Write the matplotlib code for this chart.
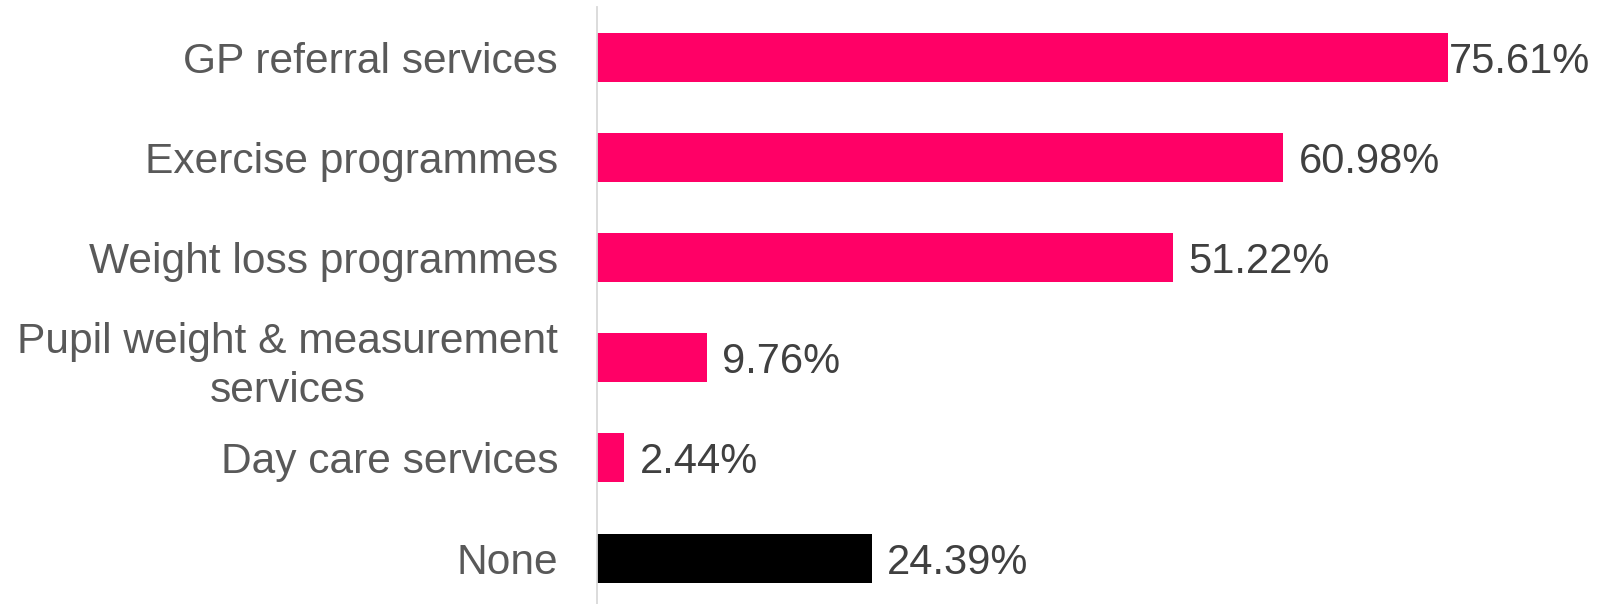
import matplotlib
matplotlib.use("Agg")
import matplotlib.pyplot as plt

# data, top to bottom
labels = ["GP referral services", "Exercise programmes", "Weight loss programmes",
          "Pupil weight & measurement\nservices", "Day care services", "None"]
values = [75.61, 60.98, 51.22, 9.76, 2.44, 24.39]
colors = ["#FF0066", "#FF0066", "#FF0066", "#FF0066", "#FF0066", "#000000"]

plt.rcParams['font.family'] = ['Liberation Sans', 'DejaVu Sans']

fig = plt.figure(figsize=(15.98, 6.04), dpi=100)
ax = fig.add_axes([597/1598, 0, 1 - 597/1598, 1 - 7/604])

pos = list(range(len(values)))
ax.barh(pos, values, height=0.49, color=colors)
ax.set_ylim(5.458, -0.5)
ax.set_xlim(0, 88.94)

ax.set_yticks(pos)
ax.set_yticklabels(labels, fontsize=30.6, color="#595959", linespacing=1.28,
                   multialignment="center")
ax.tick_params(axis="y", length=0, pad=28)
ax.set_xticks([])

for s in ["top", "right", "bottom"]:
    ax.spines[s].set_visible(False)
ax.spines["left"].set_color("#D9D9D9")
ax.spines["left"].set_linewidth(1.3)

# value labels; the first one is pushed in against the edge
for i, v in enumerate(values):
    pad = 1 if i == 0 else 11
    ax.annotate(f"{v:.2f}%", (v, i), xytext=(pad, 0), textcoords="offset points",
                va="center_baseline", ha="left", fontsize=30, color="#404040")

fig.savefig("out.png", dpi=100)
